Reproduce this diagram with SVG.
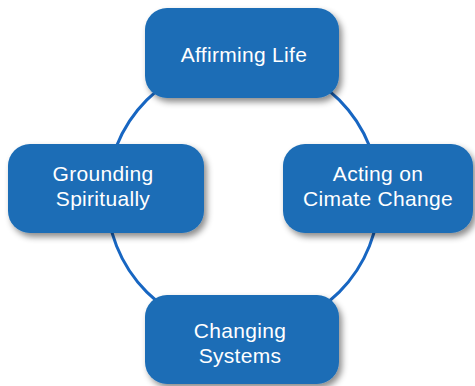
<svg xmlns="http://www.w3.org/2000/svg" width="475" height="386" viewBox="0 0 475 386">
<defs>
<filter id="sh" x="-20%" y="-20%" width="140%" height="150%">
<feDropShadow dx="3" dy="4" stdDeviation="3" flood-color="#000" flood-opacity="0.45"/>
</filter>
<style>
.box{fill:#1b6db6;filter:url(#sh);}
.lbl{font-family:"Liberation Sans",Arial,sans-serif;font-size:21px;fill:#fff;text-anchor:middle;letter-spacing:0.3px;}
.ring{fill:none;stroke:#1766c2;stroke-width:3;}
</style>
</defs>
<rect width="475" height="386" fill="#fff"/>
<g id="connectors">
<circle class="ring" cx="243" cy="196" r="136"/>
</g>
<g id="affirming-life">
<rect class="box" x="145" y="8" width="194" height="90" rx="22"/>
<text class="lbl" x="244" y="62">Affirming Life</text>
</g>
<g id="grounding-spiritually">
<rect class="box" x="8" y="144" width="196" height="89" rx="22"/>
<text class="lbl" x="103" y="181">Grounding</text>
<text class="lbl" x="103" y="206">Spiritually</text>
</g>
<g id="acting-on-climate-change">
<rect class="box" x="283" y="144" width="190" height="89" rx="22"/>
<text class="lbl" x="378" y="181">Acting on</text>
<text class="lbl" x="378" y="206">Cimate Change</text>
</g>
<g id="changing-systems">
<rect class="box" x="145" y="295" width="194" height="89" rx="22"/>
<text class="lbl" x="240" y="338">Changing</text>
<text class="lbl" x="240" y="363">Systems</text>
</g>
</svg>
